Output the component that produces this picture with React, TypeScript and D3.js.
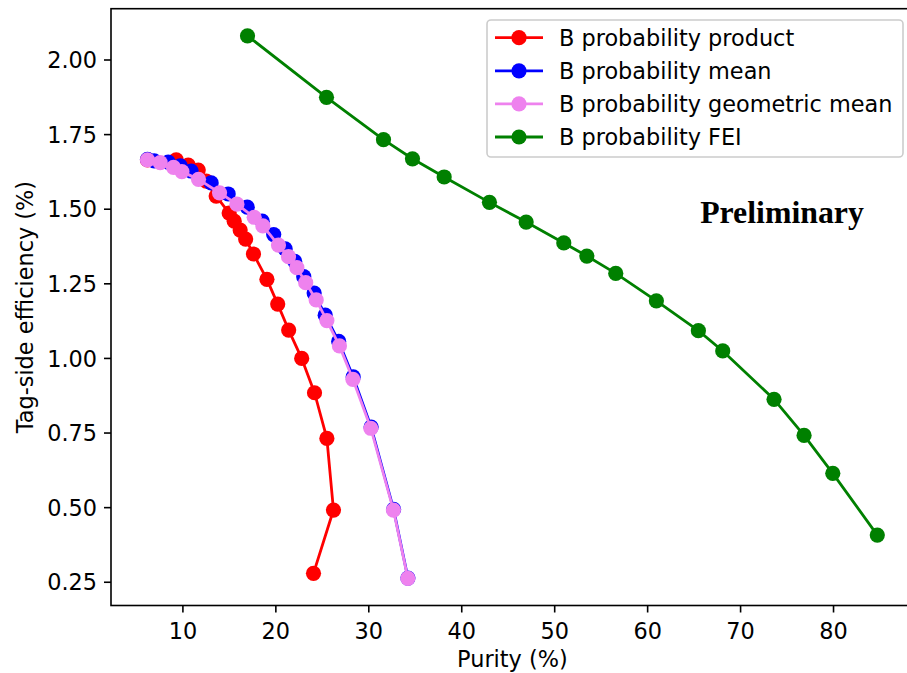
import React from "react";
import * as d3 from "d3";

// Series data: [purity %, tag-side efficiency %]
const productX = [6.19, 9.28, 10.57, 11.65, 12.51, 13.58, 14.98, 15.52, 16.16, 16.75, 17.59, 19.04, 20.2, 21.38, 22.78, 24.16, 25.49, 26.2, 24.05];
const productY = [1.665, 1.665, 1.648, 1.631, 1.594, 1.544, 1.487, 1.46, 1.43, 1.4, 1.35, 1.265, 1.182, 1.095, 1.0, 0.885, 0.732, 0.492, 0.28];

const meanX = [6.19, 6.91, 8.42, 9.71, 10.89, 13.04, 14.87, 16.92, 18.53, 19.77, 21.0, 22.03, 23.0, 24.12, 25.31, 26.76, 28.32, 30.25, 32.67, 34.21];
const meanY = [1.667, 1.662, 1.658, 1.645, 1.628, 1.588, 1.551, 1.507, 1.46, 1.415, 1.367, 1.325, 1.274, 1.219, 1.145, 1.057, 0.938, 0.77, 0.494, 0.264];

const geoX = [6.19, 7.56, 8.99, 9.89, 11.68, 13.94, 15.81, 17.67, 18.6, 20.28, 21.36, 22.26, 23.21, 24.34, 25.49, 26.84, 28.29, 30.22, 32.65, 34.2];
const geoY = [1.665, 1.656, 1.64, 1.626, 1.6, 1.555, 1.517, 1.473, 1.444, 1.38, 1.341, 1.304, 1.254, 1.196, 1.127, 1.042, 0.93, 0.766, 0.492, 0.263];

const feiX = [16.95, 25.45, 31.58, 34.7, 38.11, 42.98, 46.93, 50.98, 53.46, 56.57, 60.94, 65.46, 68.08, 73.6, 76.83, 79.92, 84.71];
const feiY = [2.081, 1.875, 1.733, 1.669, 1.608, 1.523, 1.457, 1.387, 1.343, 1.285, 1.193, 1.093, 1.025, 0.863, 0.742, 0.615, 0.408];

const seriesNames = ["B probability product", "B probability mean", "B probability geometric mean", "B probability FEI"];
const seriesColors = ["#ff0000", "#0000ff", "#ee82ee", "#008000"];

const xTicks = [10, 20, 30, 40, 50, 60, 70, 80];
const yTicks = [0.25, 0.5, 0.75, 1.0, 1.25, 1.5, 1.75, 2.0];

const W = 907;
const H = 673;
const plot = { left: 111, right: 913.8, top: 8.7, bottom: 605.5 };
const FONT = "'DejaVu Sans', sans-serif";

export default function App() {
  const series = [
    { x: productX, y: productY },
    { x: meanX, y: meanY },
    { x: geoX, y: geoY },
    { x: feiX, y: feiY },
  ];
  const allX = series.flatMap((s) => s.x);
  const allY = series.flatMap((s) => s.y);
  const [x0, x1] = d3.extent(allX) as [number, number];
  const [y0, y1] = d3.extent(allY) as [number, number];
  const mx = (x1 - x0) * 0.05;
  const my = (y1 - y0) * 0.05;

  const xScale = d3.scaleLinear().domain([x0 - mx, x1 + mx]).range([plot.left, plot.right]);
  const yScale = d3.scaleLinear().domain([y0 - my, y1 + my]).range([plot.bottom, plot.top]);

  const line = d3
    .line<[number, number]>()
    .x((d) => xScale(d[0]))
    .y((d) => yScale(d[1]));

  const fmt = d3.format(".2f");
  const fs = 22.4;
  const r = 7.6;
  const lw = 2.8;

  const legend = { x: 487, y: 20, w: 416, h: 137, row: 33.1 };

  return (
    <svg
      width={W}
      height={H}
      style={{ position: "absolute", left: 0, top: 0, background: "#fff" }}
      fontFamily={FONT}
    >
      <rect x={0} y={0} width={W} height={H} fill="#fff" />
      {series.map((s, i) => {
        const pts = s.x.map((v, j) => [v, s.y[j]] as [number, number]);
        return (
          <g key={i}>
            <path d={line(pts) || ""} fill="none" stroke={seriesColors[i]} strokeWidth={lw} strokeLinejoin="round" />
            {pts.map((p, j) => (
              <circle key={j} cx={xScale(p[0])} cy={yScale(p[1])} r={r} fill={seriesColors[i]} />
            ))}
          </g>
        );
      })}

      {/* frame */}
      <rect
        x={plot.left}
        y={plot.top}
        width={plot.right - plot.left}
        height={plot.bottom - plot.top}
        fill="none"
        stroke="#000"
        strokeWidth={1.6}
      />

      {/* x ticks */}
      {xTicks.map((t) => (
        <g key={t} transform={`translate(${xScale(t)},${plot.bottom})`}>
          <line y1={0} y2={7} stroke="#000" strokeWidth={1.6} />
          <text y={33} textAnchor="middle" fontSize={fs} fill="#000">
            {t}
          </text>
        </g>
      ))}
      {/* y ticks */}
      {yTicks.map((t) => (
        <g key={t} transform={`translate(${plot.left},${yScale(t)})`}>
          <line x1={0} x2={-7} stroke="#000" strokeWidth={1.6} />
          <text x={-14} dy="0.36em" textAnchor="end" fontSize={fs} fill="#000">
            {fmt(t)}
          </text>
        </g>
      ))}

      <text x={(plot.left + plot.right) / 2} y={667} textAnchor="middle" fontSize={fs} fill="#000">
        Purity (%)
      </text>
      <text
        transform={`translate(33,${(plot.top + plot.bottom) / 2}) rotate(-90)`}
        textAnchor="middle"
        fontSize={fs}
        fill="#000"
      >
        Tag-side efficiency (%)
      </text>

      <text
        x={782}
        y={223}
        textAnchor="middle"
        fontSize={31.8}
        fontWeight="bold"
        fontFamily="'Liberation Serif', 'Times New Roman', serif"
        fill="#000"
      >
        Preliminary
      </text>

      {/* legend */}
      <rect
        x={legend.x}
        y={legend.y}
        width={legend.w}
        height={legend.h}
        rx={4}
        fill="#fff"
        fillOpacity={0.8}
        stroke="#cccccc"
        strokeWidth={1.6}
      />
      {seriesNames.map((name, i) => {
        const cy = legend.y + 17.7 + i * legend.row;
        return (
          <g key={name}>
            <line x1={495} x2={543} y1={cy} y2={cy} stroke={seriesColors[i]} strokeWidth={lw} />
            <circle cx={519} cy={cy} r={r} fill={seriesColors[i]} />
            <text x={559} y={cy} dy="0.36em" fontSize={fs} fill="#000">
              {name}
            </text>
          </g>
        );
      })}
    </svg>
  );
}
